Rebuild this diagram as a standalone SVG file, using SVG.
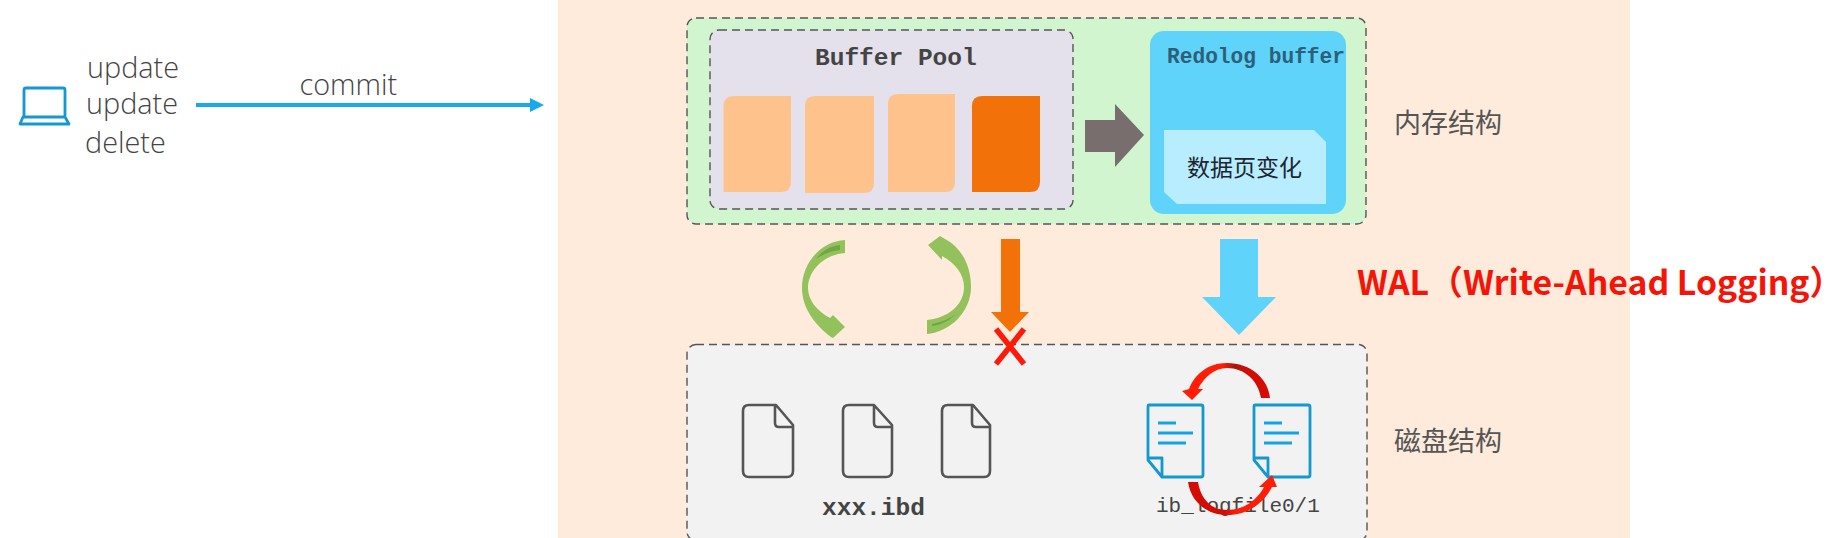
<svg xmlns="http://www.w3.org/2000/svg" width="1840" height="538" viewBox="0 0 1840 538">
<style>
.box{stroke:#555;stroke-width:1.4;stroke-dasharray:8 5}
.lbl{font-family:"Open Sans","Liberation Sans",sans-serif;font-size:28.8px;fill:#444;font-weight:300}
.mono{font-family:"Liberation Mono","Courier New",monospace;fill:#444}
.cjk{font-family:"Noto Sans CJK SC",sans-serif;font-size:27px;fill:#555}
.pg{fill:#fec38d}
.doc{fill:none;stroke:#555;stroke-width:2.6;stroke-linejoin:round}
.bdoc{fill:none;stroke:#1398cf;stroke-width:2.8;stroke-linejoin:round}
.bl{stroke:#12a4e6;stroke-width:3;fill:none}
.gr{fill:#93c15c}.grd{fill:#72a544}
</style>
<defs>
<linearGradient id="rt" x1="0" x2="1" y1="0" y2="0"><stop offset="0" stop-color="#ff1d06"/><stop offset=".45" stop-color="#ff1d06"/><stop offset=".6" stop-color="#a81810"/><stop offset=".75" stop-color="#d40c04"/><stop offset="1" stop-color="#d40c04"/></linearGradient>
<linearGradient id="rb" x1="0" x2="1" y1="0" y2="0"><stop offset="0" stop-color="#d40c04"/><stop offset=".4" stop-color="#d40c04"/><stop offset=".55" stop-color="#ff1d06"/><stop offset="1" stop-color="#ff1d06"/></linearGradient>
</defs>
<rect id="bg" x="558" y="0" width="1072" height="538" fill="#feebdc"/>
<g id="client">
<path d="M24 116V90q0-2 2-2H63q2 0 2 2V116" fill="none" stroke="#1398cf" stroke-width="2.8"/>
<path d="M23 117H65L69 124H20Z" fill="none" stroke="#1398cf" stroke-width="2.8" stroke-linejoin="round"/>
<text class="lbl" x="87" y="78">update</text>
<text class="lbl" x="86" y="114">update</text>
<text class="lbl" x="85" y="153">delete</text>
</g>
<g id="memory">
<rect class="box" x="687" y="18" width="679" height="206" rx="9" fill="#d0f5cf"/>
<text class="cjk" x="1394" y="133">内存结构</text>
</g>
<g id="buffer-pool">
<rect class="box" x="710" y="30" width="363" height="179" rx="9" fill="#e4e0ec"/>
<text class="mono" x="815" y="65" font-size="24.500" font-weight="700">Buffer Pool</text>
<path class="pg" d="M734 96H791V182Q791 192 781 192H723.500V106Q723.500 96 734 96Z"/>
<path class="pg" d="M815 96H874V183Q874 193 864 193H805V106Q805 96 815 96Z"/>
<path class="pg" d="M898 94H955V182Q955 192 945 192H888V104Q888 94 898 94Z"/>
<path fill="#f27209" d="M982 96H1040V182Q1040 192 1030 192H972V106Q972 96 982 96Z"/>
</g>
<g id="redolog-buffer">
<rect x="1150" y="31" width="196" height="183" rx="14" fill="#5fd3fa"/>
<text class="mono" x="1167" y="63" font-size="21.200" font-weight="700" style="fill:#2d6078">Redolog buffer</text>
<path d="M1164 130H1314L1326 142V204H1177L1164 192Z" fill="#b8ecff"/>
<text x="1187" y="176" font-family="'Noto Sans CJK SC',sans-serif" font-size="23" fill="#1c2530">数据页变化</text>
</g>
<g id="disk">
<rect class="box" x="687" y="344.500" width="680" height="196" rx="9" fill="#f2f2f2"/>
<text class="cjk" x="1394" y="451">磁盘结构</text>
</g>
<g id="ibd-files">
<path class="doc" d="M749 405H776L793 425V471Q793 477 787 477H749Q743 477 743 471V411Q743 405 749 405Z M775 405V423Q775 427 779 427H793"/>
<path class="doc" d="M849 405H874L892 425V471Q892 477 886 477H849Q843 477 843 471V411Q843 405 849 405Z M874 405V423Q874 427 878 427H892"/>
<path class="doc" d="M948 405H973L990 425V471Q990 477 984 477H948Q942 477 942 471V411Q942 405 948 405Z M972 405V423Q972 427 976 427H990"/>
<text class="mono" x="822" y="515" font-size="24.500" font-weight="700">xxx.ibd</text>
</g>
<g id="redo-files">
<path class="bdoc" d="M1149 405H1201Q1203 405 1203 407V475Q1203 477 1201 477H1162L1148 460V407Q1148 405 1149 405Z M1148 458H1162V477"/>
<path class="bl" d="M1158 423H1176M1158 433H1193M1158 443H1186"/>
<path class="bdoc" d="M1255 405H1308Q1310 405 1310 407V475Q1310 477 1308 477H1268L1254 460V407Q1254 405 1255 405Z M1254 458H1268V477"/>
<path class="bl" d="M1264 423H1282M1264 433H1299M1264 443H1292"/>
<text class="mono" x="1156" y="512" font-size="21">ib_logfile0/1</text>
</g>
<g id="connectors">
<path d="M196 105H532" stroke="#17a9ea" stroke-width="4" fill="none"/>
<path d="M530 98L544 105L530 112Z" fill="#17a9ea"/>
<text class="lbl" x="299.500" y="95">commit</text>
<path d="M1085 120H1115V104L1144 135L1115 167V152H1085Z" fill="#786e6e"/>
<path class="gr" d="M845 240C822 241 802 262 802 288C802 308 815 325 831 337L833 338L845 327L833 315L830 318C817 311 808 300 808 288C808 272 822 255 845 253Z"/>
<path class="grd" d="M840 245C830 246 822 251 816 259C823 254 832 251 840 250Z"/>
<path class="gr" d="M928 245L940 236L945 239C962 248 971 266 971 287C971 312 950 332 927 334V320C948 318 964 305 964 287C964 274 955 263 942 256L942 260Z"/>
<path class="grd" d="M932 326C942 325 950 320 957 313C950 319 942 322 932 324Z"/>
<path d="M1001 239H1020V312H1029L1010 332L991 312H1001Z" fill="#f27209"/>
<path d="M996 329L1024 364M1024 329L996 364" stroke="#fe1a0a" stroke-width="5.500" fill="none"/>
<path d="M1220 239H1258V297H1276L1239 335L1202 297H1220Z" fill="#5fd3fa"/>
<path fill="url(#rt)" d="M1270 398C1268 378 1250 363 1227 363C1208 363 1195 374 1189 389L1182 391L1192 400L1203 389L1198 389C1204 377 1215 368 1227 368C1244 368 1258 380 1261 398Z"/>
<path fill="url(#rb)" d="M1188 482C1191 502 1207 515 1227 515C1248 515 1264 503 1272 487L1277 487L1272 475L1259 487L1264 487C1257 500 1244 510 1227 510C1212 510 1201 500 1198 482Z"/>
</g>
<text id="wal" x="1357" y="295" font-family="'Noto Sans CJK SC','Noto Sans',sans-serif" font-size="33.800" font-weight="700" fill="#f51508">WAL（Write-Ahead Logging）</text>
</svg>
